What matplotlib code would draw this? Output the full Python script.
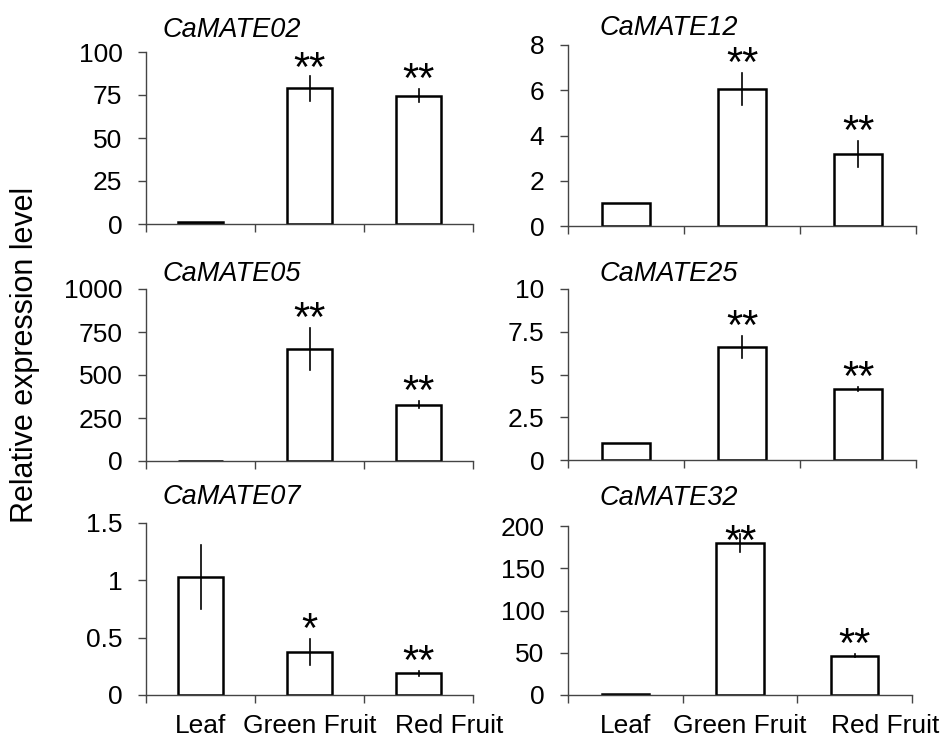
import matplotlib
matplotlib.use("Agg")
import matplotlib.pyplot as plt
import matplotlib.transforms as mtransforms
from matplotlib.ticker import FuncFormatter, FixedLocator

plt.rcParams["font.family"] = ["Liberation Sans", "DejaVu Sans"]

# Data
tissues = ["Leaf", "Green Fruit", "Red Fruit"]
genes = ["CaMATE02", "CaMATE12", "CaMATE05", "CaMATE25", "CaMATE07", "CaMATE32"]

mate02 = [1.0, 78.8, 74.5]
mate02_err = [0.0, 7.0, 3.7]
mate12 = [1.0, 6.05, 3.17]
mate12_err = [0.0, 0.7, 0.57]
mate05 = [1.0, 652, 328]
mate05_err = [0.0, 122, 18]
mate25 = [1.0, 6.6, 4.15]
mate25_err = [0.0, 0.65, 0.1]
mate07 = [1.03, 0.375, 0.19]
mate07_err = [0.28, 0.11, 0.02]
mate32 = [1.0, 180, 46.7]
mate32_err = [0.0, 11, 2.0]

signif = [
    ["", "**", "**"],
    ["", "**", "**"],
    ["", "**", "**"],
    ["", "**", "**"],
    ["", "*", "**"],
    ["", "**", "**"],
]

yticks = [
    [0, 25, 50, 75, 100],
    [0, 2, 4, 6, 8],
    [0, 250, 500, 750, 1000],
    [0, 2.5, 5, 7.5, 10],
    [0, 0.5, 1, 1.5],
    [0, 50, 100, 150, 200],
]

values = [mate02, mate12, mate05, mate25, mate07, mate32]
errors = [mate02_err, mate12_err, mate05_err, mate25_err, mate07_err, mate32_err]

W, H = 944, 744
# axes boxes in pixels: x0, y_top, x1, y_bottom
boxes = [
    (146, 52, 473, 224),
    (568, 45, 916, 226),
    (146, 289, 473, 461),
    (568, 289, 916, 460),
    (146, 523, 473, 695),
    (568, 526, 912, 695),
]
# title offsets (points) from the top-left corner of each axes
title_off = [(12, 11), (23, 7.5), (12, 5.5), (23, 5.5), (12, 14), (23, 15)]

fig = plt.figure(figsize=(W / 100, H / 100), dpi=100)

for i, gene in enumerate(genes):
    x0, yt, x1, yb = boxes[i]
    ax = fig.add_axes([x0 / W, 1 - yb / H, (x1 - x0) / W, (yb - yt) / H])
    vals, errs = values[i], errors[i]
    xs = range(len(tissues))
    ax.bar(xs, vals, width=0.41, color="white", edgecolor="black", linewidth=1.8, zorder=2)
    for x, v, e in zip(xs, vals, errs):
        if e > 0:
            ax.plot([x, x], [v - e, v + e], color="black", linewidth=1.2, zorder=3)

    ymax = yticks[i][-1]
    ax.set_xlim(-0.5, 2.5)
    ax.set_ylim(0, ymax)
    ax.set_yticks(yticks[i])
    ax.yaxis.set_major_formatter(FuncFormatter(lambda v, p: f"{v:g}"))
    ax.tick_params(axis="y", direction="out", length=6, width=1, color="#444444",
                   labelsize=19, pad=11)

    ax.set_xticks(list(xs))
    ax.xaxis.set_minor_locator(FixedLocator([-0.5, 0.5, 1.5, 2.5]))
    ax.tick_params(axis="x", which="major", length=0, labelsize=19, pad=14)
    ax.tick_params(axis="x", which="minor", direction="out", length=6, width=1, color="#444444")
    if i >= 4:
        ax.set_xticklabels(tissues)
        # last label sits a bit to the right, as in the original
        shift = mtransforms.ScaledTranslation(22 / 72, 0, fig.dpi_scale_trans)
        lab = ax.get_xticklabels()[-1]
        lab.set_transform(lab.get_transform() + shift)
    else:
        ax.set_xticklabels([])

    for side in ["top", "right"]:
        ax.spines[side].set_visible(False)
    for side in ["left", "bottom"]:
        ax.spines[side].set_color("#444444")
        ax.spines[side].set_linewidth(1)

    # significance stars
    for x, v, e, s in zip(xs, vals, errs, signif[i]):
        if s:
            ax.annotate(s, xy=(x, min(v + e, 0.85 * ymax)), xytext=(0, -2),
                        textcoords="offset points", ha="center", va="baseline",
                        fontsize=30, zorder=4)

    ax.annotate(gene, xy=(0, 1), xycoords="axes fraction", xytext=title_off[i],
                textcoords="offset points", ha="left", va="baseline",
                fontsize=19.5, fontstyle="italic")

fig.text(0.027, 1 - 355 / H, "Relative expression level", rotation=90,
         ha="center", va="center", fontsize=22)

fig.savefig("out.png", dpi=100)
